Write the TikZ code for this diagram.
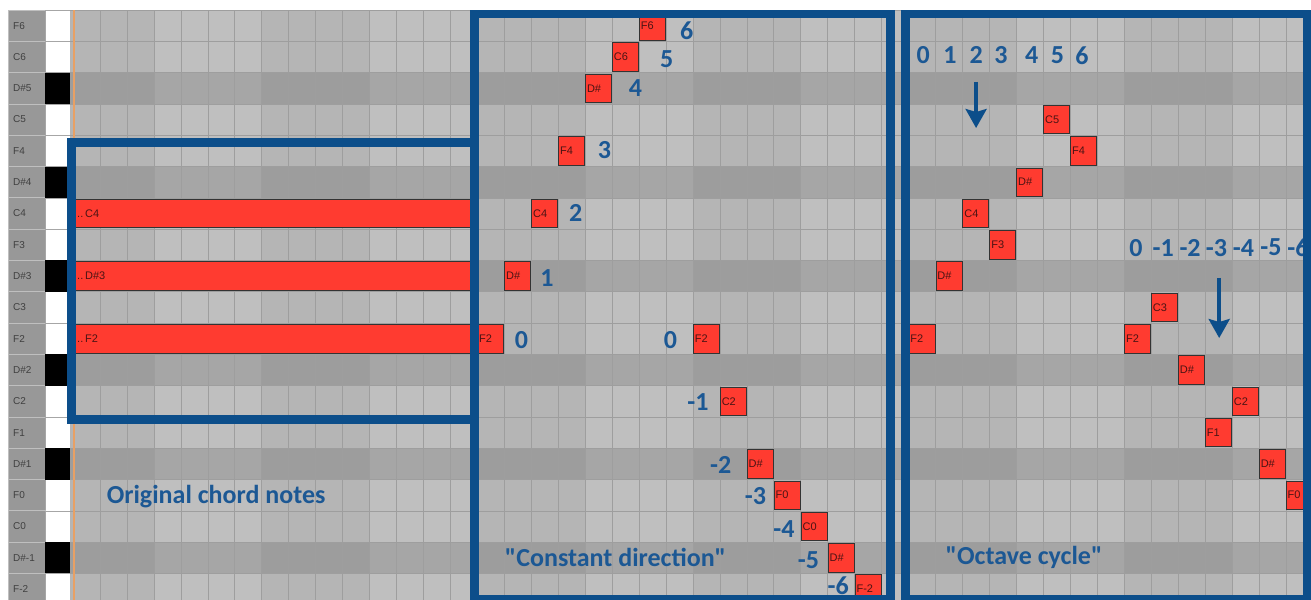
\documentclass[tikz,border=0pt]{standalone}
\usepackage{fontspec}
\setmainfont{Carlito}
\newfontfamily\keyfont{Liberation Sans}
\usetikzlibrary{arrows.meta}
\definecolor{rollblue}{RGB}{12,78,138}
\definecolor{labelblue}{RGB}{28,88,148}
\definecolor{notered}{RGB}{255,59,48}
\definecolor{notetext}{RGB}{75,20,20}
\definecolor{rowlight}{RGB}{191,191,191}
\definecolor{rowdark}{RGB}{166,166,166}
\definecolor{gridline}{RGB}{158,158,158}
\definecolor{keycell}{RGB}{152,152,152}
\definecolor{orangeline}{RGB}{232,160,100}

\begin{document}
\begin{tikzpicture}[x=26.95pt,y=-31.3pt,>=Stealth,
  note/.style={draw=black!80,line width=0.7pt,fill=notered,minimum height=28.5pt,text width=23pt,inner xsep=1.5pt,inner ysep=0pt,align=left,text=notetext,font=\keyfont\fontsize{11}{11}\selectfont},
  chordbar/.style={draw=black!80,line width=0.7pt,fill=notered,minimum height=28.5pt,minimum width=404pt,inner sep=0pt},
  keylabel/.style={anchor=west,inner sep=0pt,text=black!75,font=\keyfont\fontsize{10}{10}\selectfont},
  num/.style={inner sep=0pt,text=labelblue,font=\bfseries\fontsize{26}{26}\selectfont},
  caption/.style={inner sep=0pt,text=labelblue,font=\bfseries\fontsize{26}{26}\selectfont},
  rollframe/.style={draw=rollblue,line width=8.5pt}]
  \useasboundingbox (-2.7087,-0.3195) rectangle (45.937,18.818);
  \fill[white] (-2.7087,-0.3195) rectangle (45.937,18.818);

  \foreach \name [count=\r from 0] in {F6,C6,D\#5,C5,F4,D\#4,C4,F3,D\#3,C3,F2,D\#2,C2,F1,D\#1,F0,C0,D\#-1,F-2} {
    \draw[fill=keycell,draw=rowlight,line width=0.8pt] (-2.412,\r) rectangle (-1.039,\r+1);
    \node[keylabel] (keylabel\r) at (-2.226,\r+0.5) {\name};
    \draw[fill=white,draw=gray!70,line width=0.5pt] (-1.039,\r) rectangle (-0.111,\r+1);
  }
  \foreach \r in {2,5,...,17}
    \fill[black] (-1.039,\r) rectangle (-0.111,\r+1);

  \foreach \r in {0,...,18}
    \fill[rowlight] (-0.111,\r) rectangle (45.937,\r+1);
  \foreach \r in {2,5,...,17}
    \fill[rowdark] (-0.111,\r) rectangle (45.937,\r+1);
  \fill[black,opacity=0.05] (-0.111,0) rectangle (3,19);
  \foreach \k in {7,15,23,31,39}
    \fill[black,opacity=0.05] (\k,0) rectangle (\k+4,19);
  \foreach \k in {1,...,45}
    \draw[gridline,line width=0.5pt] (\k,0) -- (\k,19);
  \foreach \r in {0,...,19}
    \draw[gridline,line width=0.6pt] (-0.111,\r) -- (45.937,\r);
  \draw[orangeline,line width=1.8pt] (0.037,0) -- (0.037,19);

  \node[chordbar] (chordC) at (7.5,6.5) {};
  \node[chordbar] (chordDs) at (7.5,8.5) {};
  \node[chordbar] (chordF) at (7.5,10.5) {};
  \node[keylabel,text=notetext,font=\keyfont\fontsize{11}{11}\selectfont] (chordClabel) at (0.15,6.5) {..\,C4};
  \node[keylabel,text=notetext,font=\keyfont\fontsize{11}{11}\selectfont] (chordDslabel) at (0.15,8.5) {..\,D\#3};
  \node[keylabel,text=notetext,font=\keyfont\fontsize{11}{11}\selectfont] (chordFlabel) at (0.15,10.5) {..\,F2};

  \node[note] (up0) at (15.5,10.5) {F2};
  \node[note] (up1) at (16.5,8.5) {D\#};
  \node[note] (up2) at (17.5,6.5) {C4};
  \node[note] (up3) at (18.5,4.5) {F4};
  \node[note] (up4) at (19.5,2.5) {D\#};
  \node[note] (up5) at (20.5,1.5) {C6};
  \node[note] (up6) at (21.5,0.5) {F6};
  \node[note] (down0) at (23.5,10.5) {F2};
  \node[note] (down1) at (24.5,12.5) {C2};
  \node[note] (down2) at (25.5,14.5) {D\#};
  \node[note] (down3) at (26.5,15.5) {F0};
  \node[note] (down4) at (27.5,16.5) {C0};
  \node[note] (down5) at (28.5,17.5) {D\#};
  \node[note] (down6) at (29.5,18.5) {F-2};

  \node[note] (cycup0) at (31.5,10.5) {F2};
  \node[note] (cycup1) at (32.5,8.5) {D\#};
  \node[note] (cycup2) at (33.5,6.5) {C4};
  \node[note] (cycup3) at (34.5,7.5) {F3};
  \node[note] (cycup4) at (35.5,5.5) {D\#};
  \node[note] (cycup5) at (36.5,3.5) {C5};
  \node[note] (cycup6) at (37.5,4.5) {F4};
  \node[note] (cycdown0) at (39.5,10.5) {F2};
  \node[note] (cycdown1) at (40.5,9.5) {C3};
  \node[note] (cycdown2) at (41.5,11.5) {D\#};
  \node[note] (cycdown3) at (43.5,12.5) {C2};
  \node[note] (cycdown4) at (42.5,13.5) {F1};
  \node[note] (cycdown5) at (44.5,14.5) {D\#};
  \node[note] (cycdown6) at (45.5,15.5) {F0};

  \node[num] (upnum0) at (16.64,10.54) {0};
  \node[num] (upnum1) at (17.59,8.55) {1};
  \node[num] (upnum2) at (18.65,6.47) {2};
  \node[num] (upnum3) at (19.72,4.47) {3};
  \node[num] (upnum4) at (20.87,2.50) {4};
  \node[num] (upnum5) at (22.03,1.565) {5};
  \node[num] (upnum6) at (22.77,0.67) {6};
  \node[num] (downnum0) at (22.17,10.54) {0};
  \node[num] (downnum1) at (23.19,12.54) {-1};
  \node[num] (downnum2) at (24.03,14.54) {-2};
  \node[num] (downnum3) at (25.32,15.54) {-3};
  \node[num] (downnum4) at (26.38,16.57) {-4};
  \node[num] (downnum5) at (27.29,17.57) {-5};
  \node[num] (downnum6) at (28.39,18.40) {-6};

  \node[num] (cycupnum0) at (31.55,1.45) {0};
  \node[num] (cycupnum1) at (32.54,1.45) {1};
  \node[num] (cycupnum2) at (33.51,1.45) {2};
  \node[num] (cycupnum3) at (34.43,1.45) {3};
  \node[num] (cycupnum4) at (35.57,1.45) {4};
  \node[num] (cycupnum5) at (36.53,1.45) {5};
  \node[num] (cycupnum6) at (37.44,1.45) {6};
  \node[num] (cycdownnum0) at (39.44,7.59) {0};
  \node[num] (cycdownnum1) at (40.45,7.59) {-1};
  \node[num] (cycdownnum2) at (41.45,7.59) {-2};
  \node[num] (cycdownnum3) at (42.43,7.59) {-3};
  \node[num] (cycdownnum4) at (43.43,7.59) {-4};
  \node[num] (cycdownnum5) at (44.45,7.59) {-5};
  \node[num] (cycdownnum6) at (45.45,7.59) {-6};

  \coordinate (cycupstart) at (33.51,2.30);
  \coordinate (cycupend) at (33.51,3.77);
  \coordinate (cycdownstart) at (42.53,8.56);
  \coordinate (cycdownend) at (42.53,10.48);
  \draw[-{Stealth[length=19pt,width=21pt,inset=3pt]},rollblue,line width=3.5pt] (cycupstart) -- (cycupend);
  \draw[-{Stealth[length=19pt,width=21pt,inset=3pt]},rollblue,line width=3.5pt] (cycdownstart) -- (cycdownend);

  \node[caption] (origcap) at (5.31,15.56) {Original chord notes};
  \node[caption] (constcap) at (20.13,17.48) {\textquotedbl Constant direction\textquotedbl};
  \node[caption] (cyclecap) at (35.29,17.48) {\textquotedbl Octave cycle\textquotedbl};

  \draw[rollframe] (-0.056,4.233) rectangle (14.898,13.083);
  \draw[rollframe] (14.898,0.128) rectangle (30.334,18.818);
  \draw[rollframe] (30.89,0.128) rectangle (45.8,18.818);
\end{tikzpicture}
\end{document}
